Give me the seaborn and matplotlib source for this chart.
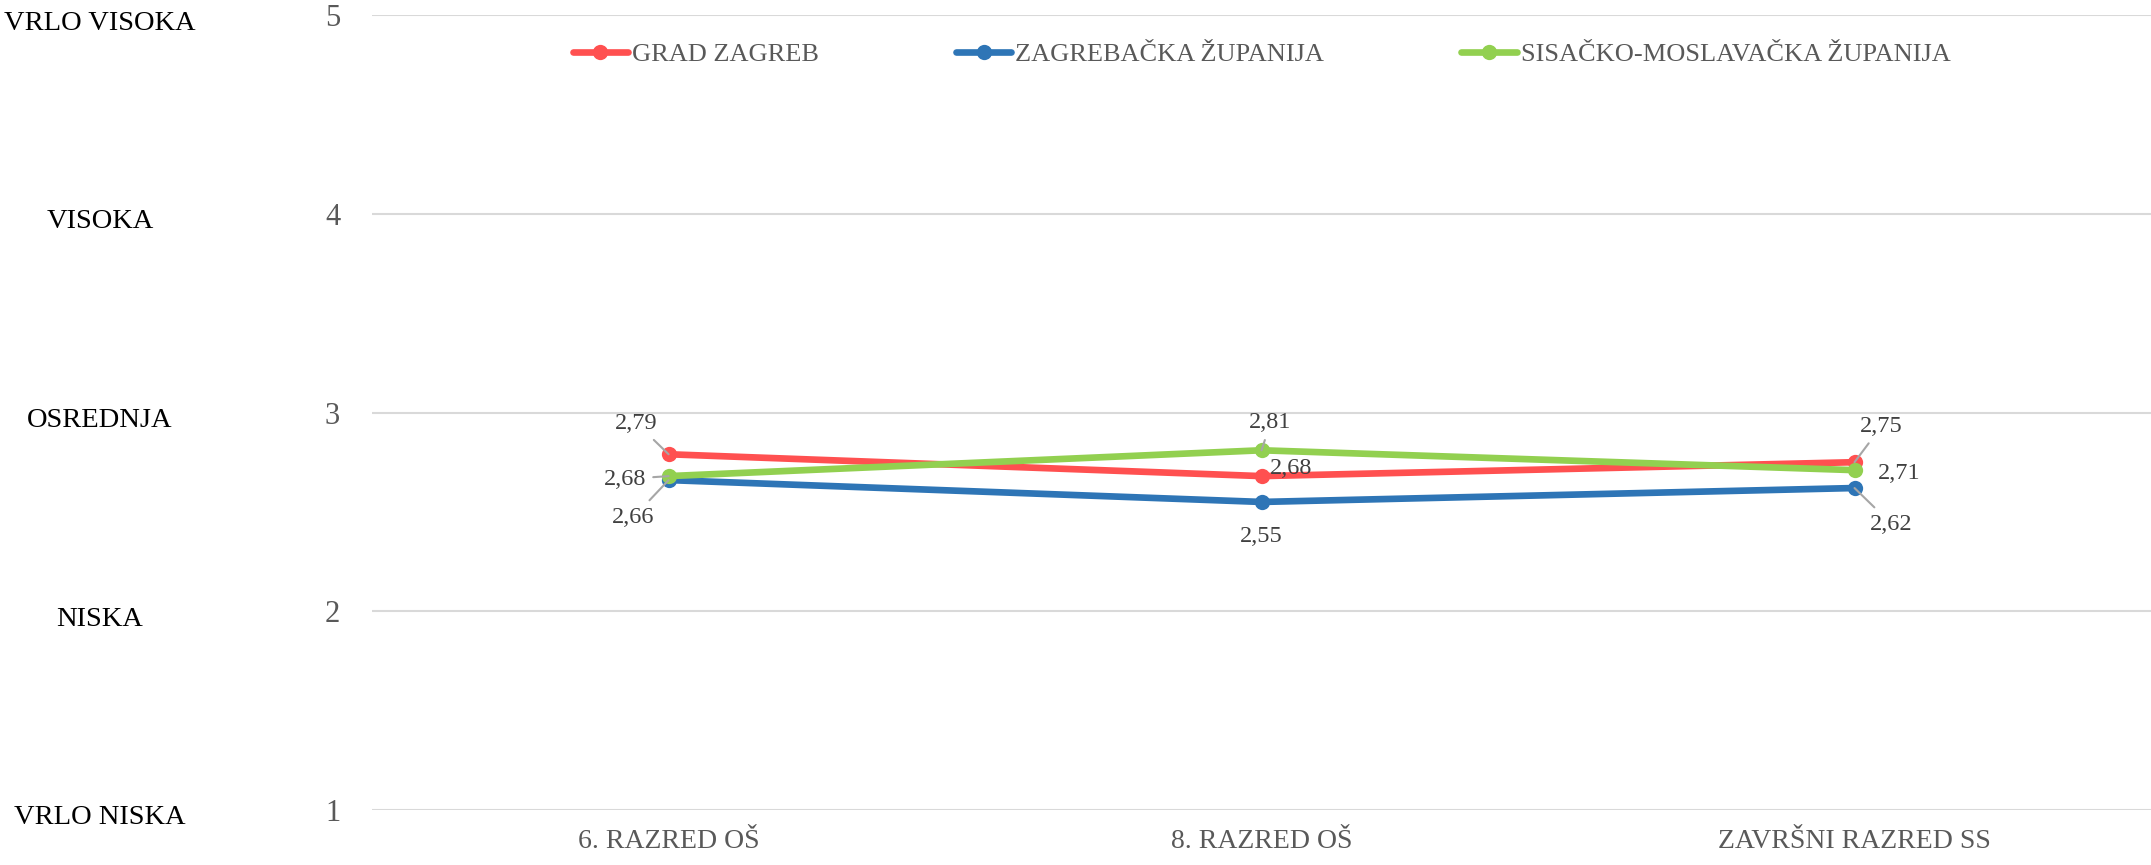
import pandas as pd
import matplotlib
matplotlib.use('Agg')
import matplotlib.pyplot as plt
import seaborn as sns

# podaci
razredi = ['6. RAZRED OŠ', '8. RAZRED OŠ', 'ZAVRŠNI RAZRED SS']
grad_zagreb = [2.79, 2.68, 2.75]
zagrebacka = [2.66, 2.55, 2.62]
sisacko_moslavacka = [2.68, 2.81, 2.71]
serije = ['GRAD ZAGREB', 'ZAGREBAČKA ŽUPANIJA', 'SISAČKO-MOSLAVAČKA ŽUPANIJA']
boje = ['#FF5050', '#2E75B6', '#92D050']
razine = ['VRLO NISKA', 'NISKA', 'OSREDNJA', 'VISOKA', 'VRLO VISOKA']
y_ticks = [1, 2, 3, 4, 5]

# pomaci oznaka (pikseli) i imaju li crtu vodilju
pomaci = {
    'GRAD ZAGREB': [(-32, 31, True), (30, 8, False), (27, 36, True)],
    'ZAGREBAČKA ŽUPANIJA': [(-35, -37, True), (0, -35, False), (37, -36, True)],
    'SISAČKO-MOSLAVAČKA ŽUPANIJA': [(-44, -3, True), (9, 28, True), (45, -3, False)],
}

df = pd.DataFrame({
    'razred': razredi * 3,
    'vrijednost': grad_zagreb + zagrebacka + sisacko_moslavacka,
    'serija': [s for s in serije for _ in razredi],
})

sns.set_style('white')
plt.rcParams['font.family'] = ['Liberation Serif', 'DejaVu Serif']

fig = plt.figure(figsize=(21.51, 8.65), dpi=100)
ax = fig.add_axes([0.173, 0.0636, 0.827, 0.919])

sns.lineplot(data=df, x='razred', y='vrijednost', hue='serija', hue_order=serije,
             palette=boje, marker='o', markersize=11, markeredgewidth=0,
             linewidth=4.8, sort=False, ax=ax)

ax.set_xlim(-0.5, 2.5)
ax.set_ylim(1, 5)
ax.set_yticks(y_ticks)
ax.set_xlabel('')
ax.set_ylabel('')
ax.grid(axis='y', color='#d9d9d9', linewidth=1.5)
ax.set_axisbelow(True)
for s in ax.spines.values():
    s.set_visible(False)
ax.tick_params(axis='y', length=0, pad=23, labelsize=22, labelcolor='#595959')
ax.tick_params(axis='x', length=0, pad=14, labelsize=20, labelcolor='#595959')

# oznake podataka
for serija, vrijednosti in zip(serije, [grad_zagreb, zagrebacka, sisacko_moslavacka]):
    for i, v in enumerate(vrijednosti):
        dx, dy, crta = pomaci[serija][i]
        ax.annotate(f'{v:.2f}'.replace('.', ','), xy=(i, v), xytext=(dx, dy),
                    textcoords='offset pixels', ha='center', va='center',
                    fontsize=17.5, color='#404040',
                    arrowprops=dict(arrowstyle='-', color='#a6a6a6', lw=1.5,
                                    shrinkA=3, shrinkB=0) if crta else None)

# opisne razine uz os y
for v, naziv in zip(y_ticks, razine):
    ax.text(-0.153, v - 0.04, naziv, transform=ax.get_yaxis_transform(),
            ha='center', va='center', fontsize=20.5, color='black')

leg = ax.legend(loc='upper center', bbox_to_anchor=(0.5, 0.995), ncol=3,
                frameon=False, fontsize=19, handlelength=2.1, handletextpad=0.15,
                columnspacing=5.2)
for t in leg.get_texts():
    t.set_color('#595959')

fig.savefig('out.png', dpi=100)
